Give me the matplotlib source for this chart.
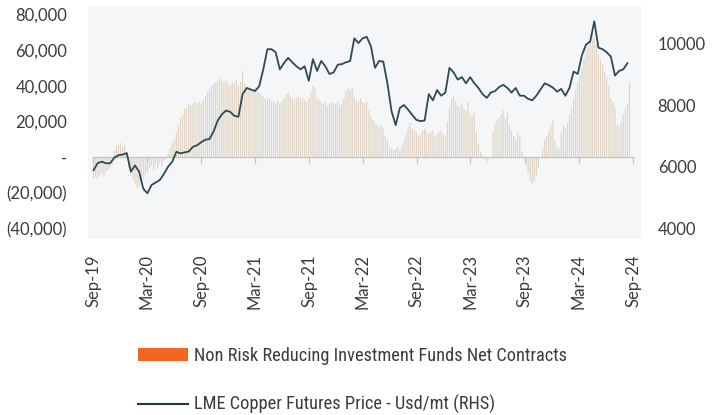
import numpy as np
import pandas as pd
import matplotlib
matplotlib.use("Agg")
import matplotlib.pyplot as plt
import matplotlib.dates as mdates
from matplotlib import font_manager
from matplotlib.patches import Patch
from matplotlib.lines import Line2D
from matplotlib.ticker import FuncFormatter, FixedLocator

# weekly net contracts, thousands
net_k = [
    -12, -11, -12, -10, -9, -11, -8, -7, -6, -4,
    4, 6, 7, 8, 6, 7, 3,
    -6, -9, -12, -15, -17, -16,
    -14, -12, -10, -8, -6,
    -5, -7, -4, -6, -3, -5, -2, -1,
    2, 5, 8, 10, 14,
    18, 22, 24, 27, 28,
    30, 29, 30, 31, 30,
    31, 30, 32, 34, 37,
    38, 40, 41, 42, 43,
    44, 43, 42, 43, 41,
    40, 42, 41, 43, 40,
    42, 48, 41, 39, 38,
    38, 37, 39, 37, 36,
    35, 34, 33, 32, 33,
    31, 31, 30, 32, 30,
    31, 33, 35, 36, 34,
    33, 32, 33, 34, 33,
    33, 32, 31, 33,
    37, 40, 39, 33,
    32, 31, 30, 31, 29, 30, 31, 30,
    30, 31, 29, 30,
    33, 37, 39, 38, 39,
    34, 32, 31, 33, 31,
    30, 31, 26, 23,
    21, 19, 18, 17, 18,
    16, 12, 9,
    6, 5, 4, 5, 6, 4, 7, 9,
    13, 17, 19, 16, 15,
    14, 12, 13, 15, 16,
    14, 13, 14, 15, 12, 13, 14, 15, 13, 12,
    20, 28, 33, 34, 31,
    29, 28, 30, 27, 26, 31, 24, 23, 25,
    14, 8, 3, 1,
    -1, -3, -1, 0,
    14, 19, 21, 22, 24, 26, 22, 25, 18,
    15, 12, 10, 14, 12,
    3, 1,
    -5, -9, -13, -15, -14, -10, -6,
    0, 5,
    10, 12, 15, 18, 21,
    9, 6, 5,
    14, 18, 16, 19,
    24, 28, 33, 38, 42,
    46, 50, 55, 60, 63, 66, 69, 66, 63, 58,
    55, 52, 48, 45, 40,
    33, 31, 28,
    18, 17, 20,
    24, 27, 30, 42,
]

# LME copper, usd/mt, every two weeks
price = [
    5900, 6130, 6170, 6120, 6120, 6300, 6380, 6400, 6450, 5850,
    6050, 5850, 5300, 5150, 5420, 5500, 5580, 5780, 6010, 6170,
    6490, 6440, 6470, 6500, 6650, 6700, 6800, 6880, 6900, 7150,
    7500, 7700, 7820, 7780, 7650, 7620, 8350, 8550, 8500, 8450,
    8600, 9150, 9800, 9800, 9700, 9150, 9350, 9520, 9380, 9250,
    9150, 9250, 8780, 9480, 9100, 9420, 9250, 9000, 9050, 9300,
    9320, 9380, 9420, 10150, 10000, 10150, 10200, 9900, 9200, 9420,
    9400, 8700, 7800, 7350, 7900, 8000, 7850, 7680, 7520, 7480,
    7500, 8350, 8150, 8480, 8300, 8400, 9200, 9050, 8820, 8900,
    8700, 8900, 8700, 8550, 8350, 8230, 8400, 8450, 8580, 8650,
    8550, 8400, 8550, 8300, 8300, 8200, 8150, 8300, 8500, 8700,
    8640, 8560, 8430, 8520, 8300, 8550, 9080, 9000, 9600, 9950,
    10050, 10700, 9850, 9800, 9700, 9560, 8950, 9100, 9150, 9350,
]

tick_labels = ["Sep-19", "Mar-20", "Sep-20", "Mar-21", "Sep-21", "Mar-22",
               "Sep-22", "Mar-23", "Sep-23", "Mar-24", "Sep-24"]
tick_dates = pd.to_datetime(["2019-09-01", "2020-03-01", "2020-09-01", "2021-03-01",
                             "2021-09-01", "2022-03-01", "2022-09-01", "2023-03-01",
                             "2023-09-01", "2024-03-01", "2024-09-01"])

bar_dates = pd.date_range("2019-09-03", periods=len(net_k), freq="7D")
price_dates = pd.date_range("2019-09-03", periods=len(price), freq="14D")

plt.rcParams["font.family"] = ["Lato", "DejaVu Sans"]
txt = "#3c3c3c"

# legend text in the original is a condensed face
names = {f.name for f in font_manager.fontManager.ttflist}
leg_family, leg_size = "Lato", 12
for nm in ["Liberation Sans Narrow", "Roboto Condensed", "Open Sans Condensed"]:
    if nm in names:
        leg_family, leg_size = nm, 13.2
        break

fig = plt.figure(figsize=(7.17, 4.15), dpi=100)
ax = fig.add_axes([88 / 717, 1 - 239 / 415, (641 - 88) / 717, (239 - 6) / 415])
ax.set_facecolor("#f4f6f8")

bx = mdates.date2num(bar_dates)
ax.bar(bx, np.array(net_k) * 1000, width=3.8, color="#e0d3c3", linewidth=0, snap=False)
ax.set_ylim(-45600, 84500)
tx = mdates.date2num(tick_dates)
ax.set_xlim(mdates.date2num(pd.Timestamp("2019-08-15")),
            mdates.date2num(pd.Timestamp("2024-09-28")))

ax2 = ax.twinx()
ax2.plot(mdates.date2num(price_dates), price, color="#2d4b56", lw=1.3)
ax2.set_ylim(3677, 11194)

for s in ax.spines.values():
    s.set_visible(False)
for s in ax2.spines.values():
    s.set_visible(False)
ax.spines["bottom"].set_visible(True)
ax.spines["bottom"].set_position(("data", 0))
ax.spines["bottom"].set_bounds(tx[0], tx[-1])
ax.spines["bottom"].set_color("#c4c4c4")
ax.spines["bottom"].set_linewidth(0.9)

ax.set_xticks(tx)
ax.tick_params(axis="x", labelbottom=False, length=4, color="#c4c4c4", width=0.9)

def fmt(v, pos):
    if v == 0:
        return "-"
    if v < 0:
        return "({:,.0f})".format(-v)
    return "{:,.0f}".format(v)

ax.yaxis.set_major_locator(FixedLocator(np.arange(-40000, 80001, 20000)))
ax.yaxis.set_major_formatter(FuncFormatter(fmt))
ax.tick_params(axis="y", length=0, pad=15, labelsize=12, labelcolor=txt)

ax2.set_yticks([4000, 6000, 8000, 10000])
ax2.tick_params(axis="y", length=0, pad=12, labelsize=12, labelcolor=txt)

sec = ax.secondary_xaxis("bottom")
sec.set_xticks(tx)
sec.set_xticklabels(tick_labels, rotation=90)
sec.tick_params(length=0, pad=11, labelsize=12, labelcolor=txt)
sec.spines["bottom"].set_visible(False)

handles = [Patch(facecolor="#f26522", edgecolor="none"),
           Line2D([], [], color="#1f3a3a", lw=1.5)]
labels = ["Non Risk Reducing Investment Funds Net Contracts",
          "LME Copper Futures Price - Usd/mt (RHS)"]
fig.legend(handles, labels, loc="upper left", bbox_to_anchor=(138 / 717, 1 - 347 / 415),
           frameon=False, prop=dict(family=[leg_family, "DejaVu Sans"], size=leg_size),
           labelcolor=txt, handlelength=2.75, handleheight=0.75, handletextpad=0.3,
           labelspacing=1.65, borderaxespad=0, borderpad=0)

fig.savefig("out.png", dpi=100, facecolor="white")
